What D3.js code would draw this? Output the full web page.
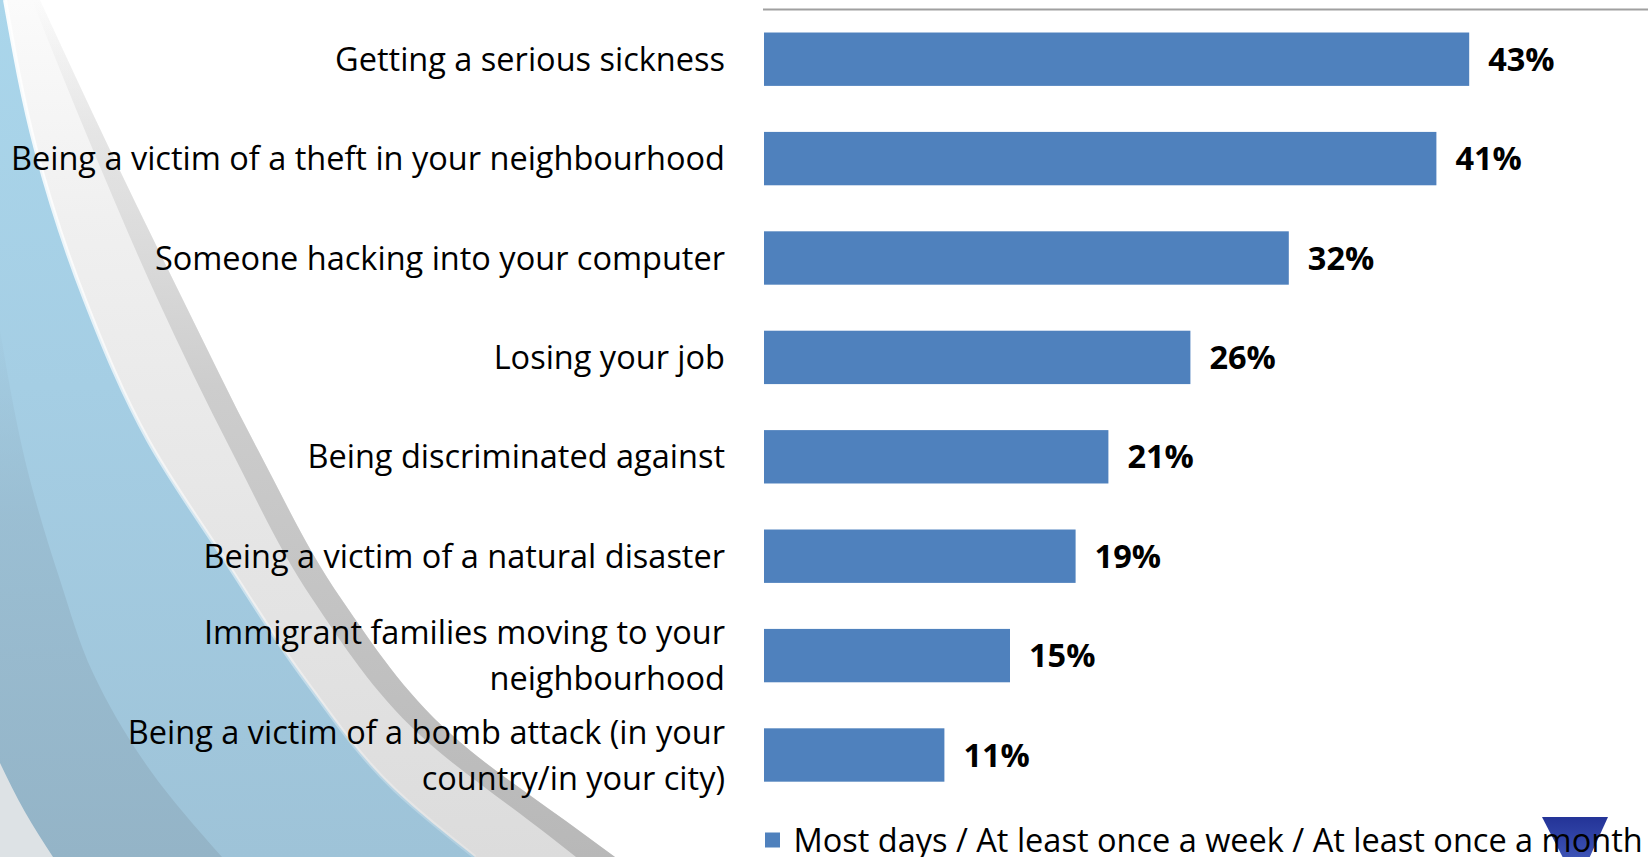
<!DOCTYPE html>
<html>
<head>
<meta charset="utf-8">
<script src="https://cdn.jsdelivr.net/npm/d3@7"></script>
<style>
  html, body { margin: 0; padding: 0; background: #ffffff; overflow: hidden; }
  svg { display: block; }
</style>
</head>
<body>
<svg id="chart" width="1648" height="857"></svg>
<script>
// Share of respondents who worry about each risk
const categories = [
  "Getting a serious sickness",
  "Being a victim of a theft in your neighbourhood",
  "Someone hacking into your computer",
  "Losing your job",
  "Being discriminated against",
  "Being a victim of a natural disaster",
  "Immigrant families moving to your\nneighbourhood",
  "Being a victim of a bomb attack (in your\ncountry/in your city)"
];
const values = [43, 41, 32, 26, 21, 19, 15, 11];
const seriesName = "Most days / At least once a week / At least once a month";
const xDomain = [0, 50];

const W = 1648, H = 857;
const barColor = "#4f81bd";
const labelFont = "'Open Sans', 'Noto Sans', sans-serif";
const fontSize = 32.5;
const capHalf = 11.5;      // half the cap height, to centre text on a bar
const lineGap = 46;        // distance between wrapped label lines

const svg = d3.select("#chart");
const defs = svg.append("defs");

// ---------- decorative slide background (left swoosh) ----------
const curve = d3.line().curve(d3.curveMonotoneY);
function leftRegion(pts) {
  const first = pts[0], last = pts[pts.length - 1];
  return curve(pts) + `L0,${last[1]}L0,${first[1]}Z`;
}
function bandRegion(outer, inner) {
  const rev = inner.slice().reverse();
  return curve(outer) + "L" + curve(rev).slice(1) + "Z";
}

const blueEdge  = [[5,0],[36,150],[85,300],[148,440],[225,560],[305,680],[395,790],[475,857]];
const grayOuter = [[40,0],[110,150],[183,300],[258,450],[342,600],[452,735],[585,835],[615,857]];
const grayInner = [[32,0],[93,150],[158,300],[231,450],[313,600],[420,735],[548,835],[576,857]];
const darkBlue  = [[0,330],[30,480],[60,580],[93,673],[150,770],[222,857]];
const cornerLt  = [[0,763],[25,812],[53,857]];

function vGrad(id, stops) {
  const g = defs.append("linearGradient").attr("id", id)
    .attr("gradientUnits", "userSpaceOnUse")
    .attr("x1", 0).attr("y1", 0).attr("x2", 0).attr("y2", H);
  stops.forEach(([o, c, a]) => g.append("stop").attr("offset", o)
    .attr("stop-color", c).attr("stop-opacity", a === undefined ? 1 : a));
}
vGrad("grayBand", [[0, "#fbfbfb"], [0.25, "#f0f0f0"], [0.6, "#e6e6e6"], [1, "#dcdcdc"]]);
vGrad("grayStripe", [[0, "#e0e0e0", 0], [0.15, "#dcdcdc", 0.6], [0.45, "#cdcdcd"], [1, "#b8b8b8"]]);
vGrad("blueFill", [[0, "#aad6eb"], [0.45, "#a5cee4"], [1, "#9ec3d8"]]);
vGrad("blueDark", [[0.35, "#98bace", 0], [0.6, "#97b9cd", 0.7], [1, "#94b4c7"]]);
vGrad("edgeGlow", [[0, "#ffffff", 0.95], [0.4, "#ffffff", 0.7], [1, "#ffffff", 0.2]]);
vGrad("logoFill", [[0.94, "#1d2b8f"], [1, "#3c52b5"]]);

const bg = svg.append("g").attr("class", "background");
bg.append("path").attr("d", leftRegion(grayOuter)).attr("fill", "url(#grayBand)");
bg.append("path").attr("d", bandRegion(grayOuter, grayInner)).attr("fill", "url(#grayStripe)");
bg.append("path").attr("d", leftRegion(blueEdge)).attr("fill", "url(#blueFill)");
bg.append("path").attr("d", leftRegion(darkBlue)).attr("fill", "url(#blueDark)");
bg.append("path").attr("d", leftRegion(cornerLt)).attr("fill", "#dde2e5");
bg.append("path").attr("d", curve(blueEdge)).attr("fill", "none")
  .attr("stroke", "url(#edgeGlow)").attr("stroke-width", 4);

// ---------- scales ----------
const plotTop = 9.5, plotBottom = 804.7;
const x = d3.scaleLinear().domain(xDomain).range([764, 1584]);
const y = d3.scaleBand().domain(categories)
  .range([plotTop, plotBottom]).paddingInner(0.463).paddingOuter(0.2315);

// top border of the plot area
svg.append("line")
  .attr("x1", x(0) - 1).attr("x2", W)
  .attr("y1", plotTop).attr("y2", plotTop)
  .attr("stroke", "#a0a0a0").attr("stroke-width", 2);

// ---------- bars ----------
svg.append("g").selectAll("rect")
  .data(values)
  .join("rect")
  .attr("x", x(0))
  .attr("y", (d, i) => y(categories[i]))
  .attr("width", d => x(d) - x(0))
  .attr("height", y.bandwidth())
  .attr("fill", barColor);

// ---------- category labels ----------
const labels = svg.append("g").attr("transform", "translate(725,0)");
categories.forEach(c => {
  const lines = c.split("\n");
  const cy = y(c) + y.bandwidth() / 2;
  const t = labels.append("text")
    .attr("text-anchor", "end")
    .attr("font-family", labelFont).attr("font-size", fontSize)
    .attr("fill", "#000");
  lines.forEach((ln, k) => {
    const off = (k - (lines.length - 1) / 2) * lineGap;
    t.append("tspan").attr("x", 0).attr("y", cy + off + capHalf).text(ln);
  });
});

// ---------- value labels ----------
svg.append("g").selectAll("text")
  .data(values)
  .join("text")
  .attr("x", d => x(d) + 19)
  .attr("y", (d, i) => y(categories[i]) + y.bandwidth() / 2 + capHalf)
  .attr("font-family", labelFont).attr("font-size", fontSize)
  .attr("font-weight", 700).attr("fill", "#000")
  .text(d => d + "%");

// ---------- logo mark (bottom right) ----------
svg.append("path")
  .attr("d", "M1542,817L1608,817L1577,885Z")
  .attr("fill", "url(#logoFill)");

// ---------- legend ----------
const legend = svg.append("g").attr("class", "legend");
legend.append("rect")
  .attr("x", 765).attr("y", 832.5).attr("width", 15).attr("height", 15)
  .attr("fill", barColor);
legend.append("text")
  .attr("x", 793.5).attr("y", 840 + capHalf)
  .attr("font-family", labelFont).attr("font-size", fontSize)
  .attr("fill", "#000")
  .text(seriesName);
</script>
</body>
</html>
